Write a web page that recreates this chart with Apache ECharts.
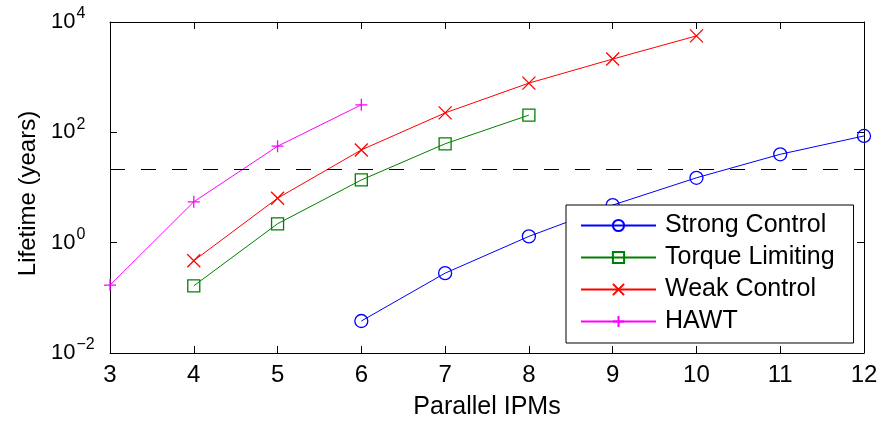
<!DOCTYPE html>
<html>
<head>
<meta charset="utf-8">
<script src="https://cdn.jsdelivr.net/npm/echarts@6/dist/echarts.min.js"></script>
<style>
  html, body { margin: 0; padding: 0; background: #fff; }
  #main { width: 884px; height: 425px; }
</style>
</head>
<body>
<div id="main"></div>
<script>
// 数据
var seriesNames = ['Strong Control', 'Torque Limiting', 'Weak Control', 'HAWT'];
var strongX = [6, 7, 8, 9, 10, 11, 12];
var strongLife = [0.038, 0.28, 1.3, 4.8, 15, 40, 86];
var torqueX = [4, 5, 6, 7, 8];
var torqueLife = [0.165, 2.2, 13.7, 62, 205];
var weakX = [4, 5, 6, 7, 8, 9, 10];
var weakLife = [0.47, 6.4, 48, 225, 780, 2130, 5600];
var hawtX = [3, 4, 5, 6];
var hawtLife = [0.17, 5.5, 56, 315];
var designLife = 21;

var FONT = '"Liberation Sans", Arial, Helvetica, sans-serif';

function pairs (xs, ys) {
  var out = [];
  for (var i = 0; i < xs.length; i++) {
    out.push([xs[i], ys[i]]);
  }
  return out;
}

function expLabel (v) {
  var e = Math.round(Math.log10(v));
  var s = e < 0 ? '\u2212' + (-e) : '' + e;
  return '{b|10}{s|' + s + '}';
}

var myChart = echarts.init(document.getElementById('main'));

function lineSeries (name, xs, ys, color, symbol, size) {
  return {
    name: name,
    type: 'line',
    data: pairs(xs, ys),
    color: color,
    symbol: symbol,
    symbolSize: size,
    showAllSymbol: true,
    clip: false,
    lineStyle: { color: color, width: 1 },
    itemStyle: { color: 'transparent', borderColor: color, borderWidth: 1.3 },
    emphasis: { disabled: true }
  };
}

var axisBase = {
  axisLine: { show: true, onZero: false, lineStyle: { color: '#000', width: 1 } },
  axisTick: { show: true, inside: true, length: 7, lineStyle: { color: '#000', width: 1 } },
  splitLine: { show: false }
};

var option = {
  animation: false,
  backgroundColor: '#fff',
  grid: { left: 110, right: 20, top: 22, bottom: 72 },
  legend: {
    data: seriesNames,
    orient: 'vertical',
    left: 566,
    top: 205,
    padding: [8, 19, 9, 14],
    itemWidth: 75,
    itemHeight: 14,
    itemGap: 7,
    backgroundColor: '#fff',
    borderColor: '#000',
    borderWidth: 1,
    borderRadius: 0,
    textStyle: { color: '#000', fontSize: 25, fontFamily: FONT, lineHeight: 25, padding: [0, 0, 0, 4] }
  },
  xAxis: [
    Object.assign({}, axisBase, {
      type: 'value', min: 3, max: 12, interval: 1, position: 'bottom',
      name: 'Parallel IPMs', nameLocation: 'middle', nameGap: 42,
      nameTextStyle: { color: '#000', fontSize: 25, fontFamily: FONT },
      axisLabel: { color: '#000', fontSize: 24, fontFamily: FONT, margin: 10 }
    }),
    Object.assign({}, axisBase, {
      type: 'value', min: 3, max: 12, interval: 1, position: 'top',
      axisLabel: { show: false }
    })
  ],
  yAxis: [
    Object.assign({}, axisBase, {
      type: 'log', logBase: 10, min: 0.01, max: 10000, interval: 2, position: 'left',
      name: 'Lifetime (years)', nameLocation: 'middle', nameGap: 70,
      nameTextStyle: { color: '#000', fontSize: 24, fontFamily: FONT, padding: [0, 12, 0, 0] },
      axisLabel: {
        align: 'left', margin: 59, formatter: expLabel,
        rich: {
          b: { color: '#000', fontSize: 22, fontFamily: FONT, lineHeight: 22 },
          s: { color: '#000', fontSize: 16, fontFamily: FONT, padding: [0, 0, 16, 1] }
        }
      },
      minorTick: { show: false }
    }),
    Object.assign({}, axisBase, {
      type: 'log', logBase: 10, min: 0.01, max: 10000, interval: 2, position: 'right',
      axisLabel: { show: false }
    })
  ],
  series: [
    lineSeries(seriesNames[0], strongX, strongLife, '#0000ff', 'circle', 13),
    lineSeries(seriesNames[1], torqueX, torqueLife, '#008000', 'rect', 12),
    lineSeries(seriesNames[2], weakX, weakLife, '#ff0000', 'path://M0,0L10,10M10,0L0,10', 13),
    lineSeries(seriesNames[3], hawtX, hawtLife, '#ff00ff', 'path://M5,0L5,10M0,5L10,5', 12)
  ]
};

// 设计寿命虚线
option.series[0].markLine = {
  silent: true,
  symbol: ['none', 'none'],
  label: { show: false },
  lineStyle: { color: '#000', type: [15, 16], width: 1 },
  data: [{ yAxis: designLife }]
};

myChart.setOption(option);
</script>
</body>
</html>
